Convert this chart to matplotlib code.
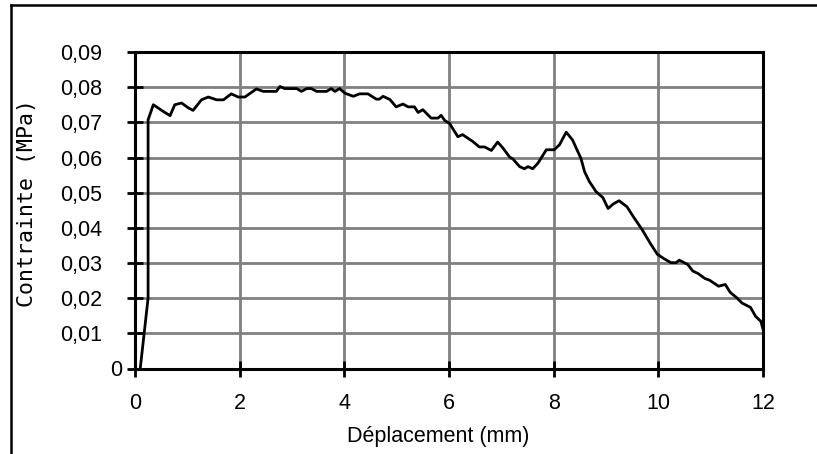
import matplotlib
matplotlib.use("Agg")
import matplotlib.pyplot as plt
from matplotlib.lines import Line2D
from matplotlib.transforms import ScaledTranslation

# Data
deplacement = [0.10, 0.25, 0.25, 0.35, 0.54, 0.67, 0.76, 0.89, 1.02, 1.11, 1.27, 1.40,
               1.56, 1.69, 1.84, 1.97, 2.10, 2.32, 2.45, 2.70, 2.77, 2.86, 2.96, 3.09,
               3.18, 3.28, 3.37, 3.47, 3.66, 3.75, 3.82, 3.91, 4.01, 4.17, 4.29, 4.45,
               4.61, 4.67, 4.74, 4.87, 4.99, 5.12, 5.22, 5.34, 5.41, 5.50, 5.66, 5.79,
               5.85, 5.92, 6.01, 6.17, 6.26, 6.36, 6.45, 6.58, 6.68, 6.81, 6.93, 7.03,
               7.16, 7.22, 7.35, 7.44, 7.51, 7.60, 7.70, 7.86, 8.01, 8.11, 8.24, 8.36,
               8.43, 8.52, 8.59, 8.68, 8.81, 8.94, 9.04, 9.14, 9.25, 9.40, 9.53, 9.69,
               9.85, 9.98, 10.11, 10.24, 10.34, 10.40, 10.56, 10.66, 10.76, 10.89, 10.98,
               11.15, 11.28, 11.37, 11.50, 11.60, 11.76, 11.86, 11.96, 12.00]
contrainte = [0.0000, 0.0200, 0.0707, 0.0750, 0.0731, 0.0719, 0.0750, 0.0755, 0.0741,
              0.0734, 0.0764, 0.0772, 0.0764, 0.0764, 0.0781, 0.0772, 0.0772, 0.0795,
              0.0788, 0.0788, 0.0802, 0.0796, 0.0796, 0.0796, 0.0788, 0.0796, 0.0796,
              0.0788, 0.0788, 0.0796, 0.0788, 0.0796, 0.0783, 0.0774, 0.0781, 0.0781,
              0.0766, 0.0766, 0.0774, 0.0765, 0.0744, 0.0752, 0.0744, 0.0744, 0.0728,
              0.0736, 0.0712, 0.0712, 0.0720, 0.0705, 0.0697, 0.0659, 0.0665, 0.0655,
              0.0646, 0.0630, 0.0630, 0.0620, 0.0644, 0.0627, 0.0601, 0.0596, 0.0574,
              0.0568, 0.0574, 0.0568, 0.0584, 0.0622, 0.0622, 0.0636, 0.0672, 0.0650,
              0.0627, 0.0598, 0.0560, 0.0532, 0.0503, 0.0486, 0.0455, 0.0468, 0.0477,
              0.0460, 0.0430, 0.0395, 0.0355, 0.0325, 0.0312, 0.0301, 0.0301, 0.0308,
              0.0296, 0.0277, 0.0270, 0.0256, 0.0251, 0.0234, 0.0239, 0.0217, 0.0201,
              0.0186, 0.0174, 0.0148, 0.0134, 0.0112]

x_ticks = [0, 2, 4, 6, 8, 10, 12]
x_tick_labels = ["0", "2", "4", "6", "8", "10", "12"]
y_ticks = [0, 0.01, 0.02, 0.03, 0.04, 0.05, 0.06, 0.07, 0.08, 0.09]
y_tick_labels = ["0", "0,01", "0,02", "0,03", "0,04", "0,05", "0,06", "0,07", "0,08", "0,09"]
x_label = "Déplacement (mm)"
y_label = "Contrainte (MPa)"

W, H = 817, 454
fig = plt.figure(figsize=(W / 100, H / 100), dpi=100)
fig.patch.set_facecolor("white")

ax = fig.add_axes([135 / W, 1 - 368.5 / H, (763 - 135) / W, (368.5 - 52) / H])
ax.set_xlim(0, 12)
ax.set_ylim(0, 0.09)

ax.plot(deplacement, contrainte, color="black", linewidth=2.0, zorder=3,
        solid_joinstyle="round")

ax.set_xticks(x_ticks)
ax.set_xticklabels(x_tick_labels)
ax.set_yticks(y_ticks)
ax.set_yticklabels(y_tick_labels)
ax.grid(True, color="#808080", linewidth=2.0)
ax.set_axisbelow(True)

for s in ax.spines.values():
    s.set_color("black")
    s.set_linewidth(2.2)
    s.set_zorder(4)

ax.tick_params(axis="both", direction="inout", length=11.5, width=2.0, color="black",
               labelcolor="black")
ax.tick_params(axis="x", pad=12)
ax.tick_params(axis="y", pad=18)
for lab in ax.get_xticklabels() + ax.get_yticklabels():
    lab.set_fontfamily("Liberation Sans")
    lab.set_fontsize(15.5)

# the "0" label of the y axis sits further right in the reference
zero_lab = ax.get_yticklabels()[0]
zero_lab.set_transform(zero_lab.get_transform() + ScaledTranslation(20 / 100, 0, fig.dpi_scale_trans))

ax.set_xlabel(x_label, fontfamily="Liberation Sans", fontsize=15.5)
ax.xaxis.set_label_coords((438 - 135) / 628, (368.5 - 426) / 316.5)

fig.text(27 / W, 1 - 203 / H, y_label, rotation=90, ha="center", va="center",
         fontfamily="DejaVu Sans Mono", fontsize=15.5)

# outer frame (left and top edges)
fig.add_artist(Line2D([11 / W, 11 / W], [1 - 5 / H, 0], transform=fig.transFigure,
                      color="black", linewidth=1.8))
fig.add_artist(Line2D([11 / W, 1], [1 - 5 / H, 1 - 5 / H], transform=fig.transFigure,
                      color="black", linewidth=1.8))

fig.savefig("out.png", dpi=100, facecolor="white")
